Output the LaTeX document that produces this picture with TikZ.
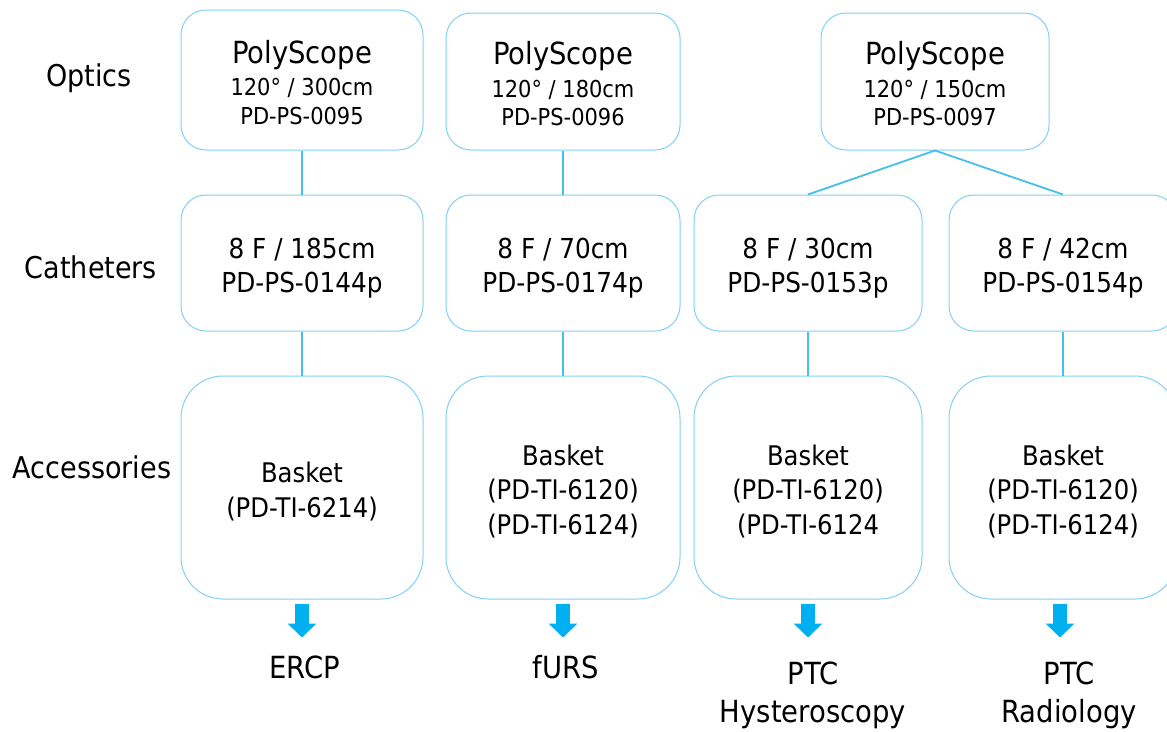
\documentclass[tikz,border=0pt]{standalone}
\usepackage{fontspec}
\setmainfont{DejaVu Sans}[FakeStretch=0.9]
\usepackage{tikz}
\usetikzlibrary{arrows.meta, positioning}
\definecolor{frame}{RGB}{130, 208, 243}
\definecolor{wireblue}{RGB}{69, 191, 236}
\definecolor{pointer}{RGB}{0, 176, 240}

\begin{document}
\begin{tikzpicture}[
  x=1pt, y=-1pt,
  box/.style={rectangle, draw=frame, line width=1pt, rounded corners=25pt, align=center, inner sep=0pt, text depth=0pt},
  optic/.style={box, minimum height=137pt, text height=88pt, font=\fontsize{23.3}{28.5}\selectfont},
  cath/.style={box, minimum width=228pt, minimum height=136pt, text height=59pt, font=\fontsize{27.5}{34}\selectfont},
  acc/.style={box, minimum width=228pt, minimum height=223pt, rounded corners=42pt, text height=59pt, font=\fontsize{27}{34.5}\selectfont},
  acc3/.style={acc, text height=93.5pt},
  row/.style={anchor=base, font=\fontsize{30}{36}\selectfont},
  target/.style={align=center, font=\fontsize{30.5}{38}\selectfont},
  wire/.style={wireblue, line width=1.8pt},
  arrow/.style={pointer, line width=14pt, -{Triangle[width=28pt, length=14pt]}}
]
  \useasboundingbox (0,0) rectangle (1167,731);
  \clip (0,0) rectangle (1167,731);

  % Row labels
  \node[row] (ropt) at (89,86) {Optics};
  \node[row] (rcat) at (91,278) {Catheters};
  \node[row] (racc) at (92,478) {Accessories};

  % Optics
  \node[optic, minimum width=242pt, minimum height=140pt] (o1) at (302,80) {{\fontsize{30.5}{36}\selectfont PolyScope}\\[4pt]120° / 300cm\\PD-PS-0095};
  \node[optic, minimum width=234pt] (o2) at (563,81.5) {{\fontsize{30.5}{36}\selectfont PolyScope}\\[4pt]120° / 180cm\\PD-PS-0096};
  \node[optic, minimum width=228pt] (o3) at (935,81.5) {{\fontsize{30.5}{36}\selectfont PolyScope}\\[4pt]120° / 150cm\\PD-PS-0097};

  % Catheters
  \node[cath, minimum width=242pt] (c1) at (302,263) {8 F / 185cm\\PD-PS-0144p};
  \node[cath, minimum width=234pt] (c2) at (563,263) {8 F / 70cm\\PD-PS-0174p};
  \node[cath] (c3) at (808,263) {8 F / 30cm\\PD-PS-0153p};
  \node[cath] (c4) at (1063,263) {8 F / 42cm\\PD-PS-0154p};

  % Accessories
  \node[acc, minimum width=242pt] (a1) at (302,487.5) {Basket\\(PD-TI-6214)};
  \node[acc3, minimum width=234pt] (a2) at (563,487.5) {Basket\\(PD-TI-6120)\\(PD-TI-6124)};
  \node[acc3] (a3) at (808,487.5) {Basket\\(PD-TI-6120)\\(PD-TI-6124};
  \node[acc3] (a4) at (1063,487.5) {Basket\\(PD-TI-6120)\\(PD-TI-6124)};

  % Procedures
  \node[target] (l1) at (305,667) {ERCP};
  \node[target] (l2) at (566,667) {fURS};
  \node[target] (l3) at (813,695) {PTC\\Hysteroscopy};
  \node[target] (l4) at (1069,695) {PTC\\Radiology};

  % Paths
  \draw[wire] (o1) -- (c1);
  \draw[wire] (o2) -- (c2);
  \draw[wire] (o3.south) -- (c3.north);
  \draw[wire] (o3.south) -- (c4.north);
  \draw[wire] (c1) -- (a1);
  \draw[wire] (c2) -- (a2);
  \draw[wire] (c3) -- (a3);
  \draw[wire] (c4) -- (a4);

  \draw[arrow] ([yshift=-4pt]a1.south) -- ([yshift=-38pt]a1.south);
  \draw[arrow] ([yshift=-4pt]a2.south) -- ([yshift=-38pt]a2.south);
  \draw[arrow] ([yshift=-4pt]a3.south) -- ([yshift=-38pt]a3.south);
  \draw[arrow] ([xshift=-3pt, yshift=-4pt]a4.south) -- ([xshift=-3pt, yshift=-38pt]a4.south);
\end{tikzpicture}
\end{document}
